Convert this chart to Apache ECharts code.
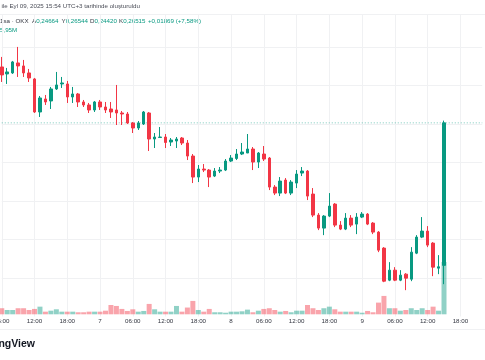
<!DOCTYPE html>
<html><head><meta charset="utf-8">
<script src="https://cdn.jsdelivr.net/npm/echarts@6/dist/echarts.min.js"></script>
<style>html,body{margin:0;padding:0;background:#fff;overflow:hidden}#c{width:485px;height:360px}</style>
</head><body><div id="c"></div>
<script>
// Hourly candles, OKX 1h, from day 6 06:00 to day 9 15:00
const opens = [0.27241,0.2715,0.27163,0.27293,0.27254,0.27163,0.27085,0.26656,0.26825,0.26799,
0.26955,0.2702,0.2702,0.26851,0.2689,0.26786,0.26747,0.26682,0.26786,0.26721,
0.26695,0.26682,0.26643,0.2663,0.26513,0.26448,0.265,0.26643,0.26305,0.26325,
0.26331,0.26266,0.26279,0.26318,0.26253,0.26084,0.25811,0.25915,0.25902,0.25824,
0.25889,0.25902,0.26019,0.26052,0.2611,0.26123,0.26175,0.26006,0.2611,0.26058,
0.25681,0.25603,0.25772,0.25603,0.25733,0.25863,0.25889,0.2559,0.25317,0.25148,
0.25304,0.2546,0.25187,0.25135,0.25278,0.252,0.25291,0.2533,0.25213,0.25096,
0.24888,0.24472,0.24602,0.24472,0.2455,0.24485,0.24823,0.25031,0.25109,0.24953,
0.24628,0.24664];
const closes = [0.27137,0.27176,0.27306,0.27254,0.27163,0.27098,0.26656,0.26838,0.26786,0.26955,
0.27007,0.27033,0.26851,0.2689,0.26786,0.26747,0.26682,0.26786,0.26721,0.26682,
0.26656,0.26643,0.2663,0.26513,0.26448,0.26513,0.26656,0.26305,0.26331,0.26331,
0.2626,0.26292,0.26305,0.26253,0.26084,0.25811,0.25915,0.25902,0.25811,0.25889,
0.25902,0.26019,0.26058,0.2611,0.26136,0.26175,0.26006,0.26123,0.26045,0.25681,
0.25603,0.25759,0.25603,0.25746,0.2585,0.25889,0.25564,0.25317,0.25148,0.25304,
0.25434,0.25187,0.25135,0.25278,0.25187,0.25291,0.2533,0.252,0.25096,0.24862,
0.24459,0.24602,0.24472,0.24537,0.24498,0.24836,0.25031,0.25109,0.24927,0.24641,
0.24646,0.26515];
const lows = [0.27046,0.2702,0.2715,0.27111,0.27111,0.27046,0.26643,0.26591,0.26747,0.26695,
0.26942,0.26968,0.26773,0.26773,0.26721,0.26721,0.26643,0.26656,0.26682,0.26643,
0.26578,0.26487,0.26487,0.265,0.26383,0.26422,0.26487,0.26149,0.26188,0.26318,
0.26188,0.26214,0.26188,0.26227,0.26032,0.25733,0.25746,0.25876,0.25681,0.25811,
0.25863,0.25889,0.26006,0.26032,0.26097,0.26123,0.25902,0.25928,0.26019,0.25642,
0.25577,0.25564,0.2559,0.25577,0.25668,0.25824,0.25512,0.25291,0.25122,0.25057,
0.25291,0.25161,0.25122,0.25122,0.25161,0.2507,0.25278,0.25187,0.2507,0.24836,
0.24446,0.24459,0.24459,0.24459,0.24342,0.24459,0.2481,0.25018,0.24901,0.24524,
0.2455,0.2442];
const highs = [0.27371,0.27228,0.27319,0.27501,0.27332,0.27215,0.27098,0.26864,0.26877,0.26981,
0.27176,0.27111,0.27059,0.26981,0.26903,0.26812,0.26773,0.26799,0.26812,0.26786,
0.26786,0.27007,0.26669,0.26656,0.26526,0.26539,0.26669,0.26656,0.26383,0.26461,
0.2637,0.26318,0.26331,0.26331,0.26292,0.2611,0.25967,0.2598,0.25915,0.25928,
0.25941,0.26045,0.26097,0.26175,0.26253,0.2637,0.26201,0.26136,0.26214,0.26071,
0.25707,0.25811,0.25798,0.25772,0.25902,0.25941,0.25902,0.25668,0.25343,0.25317,
0.25603,0.25473,0.25239,0.25343,0.25317,0.25343,0.25356,0.25343,0.25226,0.25109,
0.24901,0.24706,0.24641,0.24602,0.24563,0.24901,0.25057,0.25291,0.25174,0.24966,
0.24797,0.26544];
// volume in millions
const volumes = [0.69,0.49,0.49,0.69,0.69,0.49,0.61,0.87,0.30,0.41,
0.57,0.30,0.30,0.30,0.23,0.23,0.30,0.30,0.30,0.41,
1.06,0.95,0.61,0.38,0.57,0.30,0.38,1.18,0.57,0.30,
0.30,0.30,0.95,0.30,0.77,1.52,0.49,0.30,0.61,0.23,
0.23,0.18,0.30,0.30,0.34,0.53,0.23,0.41,0.61,0.69,
0.49,0.30,0.38,0.23,0.41,0.41,1.06,0.69,0.49,0.69,
0.87,0.57,0.30,0.30,0.30,0.30,0.18,0.38,0.23,1.33,
2.09,0.69,0.69,0.41,0.49,0.69,0.49,0.69,0.49,0.87,
0.41,5.95];
const priceTicks = [0.24, 0.28, 0.005];
const startDay = 6, startHour = 6, totalHours = 89;

const UP = '#089981', DOWN = '#f23645';
const categories = [];
for (let k = 0; k < totalHours; k++) {
  const t = startHour + k;
  categories.push((startDay + Math.floor(t / 24)) + '|' + (t % 24));
}
const isLabel = (i, v) => (+String(v).split('|')[1]) % 6 === 0;
const fmtLabel = v => { const [d, h] = String(v).split('|'); return +h === 0 ? d : (h.padStart(2, '0') + ':00'); };

const candleData = opens.map((o, i) => [o, closes[i], lows[i], highs[i]]);
const volData = volumes.map((v, i) => ({ value: v, itemStyle: { color: closes[i] >= opens[i] ? 'rgba(8,153,129,0.45)' : 'rgba(242,54,69,0.45)' } }));

const n = opens.length - 1;
const lastLine = categories.map(() => closes[n]);
const fmt = x => x.toFixed(5).replace('.', ',');
const chg = closes[n] - closes[n - 1];
const pct = chg / closes[n - 1] * 100;
const sign = chg >= 0 ? '+' : '-';
const FONT = '"Liberation Sans", Arial, sans-serif';
const F6 = '6.2px ' + FONT;

const chart = echarts.init(document.getElementById('c'), null, { renderer: 'canvas' });
chart.setOption({
  animation: false,
  backgroundColor: '#ffffff',
  grid: [
    { left: 1.75, right: 2.77, top: 14, bottom: 360 - 316.5, outerBoundsMode: 'none', containLabel: false },
    { left: 1.75, right: 2.77, top: 262, bottom: 360 - 314.3, outerBoundsMode: 'none', containLabel: false }
  ],
  xAxis: [
    { type: 'category', data: categories, gridIndex: 0, boundaryGap: false,
      axisLine: { show: false }, axisTick: { show: false }, axisLabel: { show: false },
      splitLine: { show: true, interval: isLabel, lineStyle: { color: '#f0f1f3', width: 1 } } },
    { type: 'category', data: categories, gridIndex: 1, boundaryGap: false,
      axisLine: { show: false }, axisTick: { show: false }, splitLine: { show: false },
      axisLabel: { show: true, interval: isLabel, formatter: fmtLabel, margin: 4, hideOverlap: false,
        fontSize: 6.2, color: '#333640', fontFamily: FONT } }
  ],
  yAxis: [
    { type: 'value', gridIndex: 0, min: priceTicks[0], max: 0.279286, interval: priceTicks[2],
      axisLabel: { show: false }, axisLine: { show: false }, axisTick: { show: false },
      splitLine: { show: true, showMinLine: false, showMaxLine: false, lineStyle: { color: '#f0f1f3', width: 1 } } },
    { type: 'value', gridIndex: 1, min: 0, max: 5.95, show: false, splitLine: { show: false } }
  ],
  series: [
    { type: 'bar', xAxisIndex: 1, yAxisIndex: 1, data: volData, barWidth: 5, z: 1 },
    { type: 'line', xAxisIndex: 0, yAxisIndex: 0, data: lastLine, showSymbol: false, silent: true, z: 2,
      lineStyle: { color: 'rgba(8,153,129,0.55)', type: [1, 2], width: 1 } },
    { type: 'candlestick', xAxisIndex: 0, yAxisIndex: 0, data: candleData, barWidth: 3, z: 3,
      itemStyle: { color: UP, color0: DOWN, borderColor: UP, borderColor0: DOWN, borderWidth: 1 } }
  ],
  graphic: [
    { type: 'line', shape: { x1: 0, y1: 14.5, x2: 485, y2: 14.5 }, style: { stroke: '#f0f1f3', lineWidth: 1 }, z: 0 },
    { type: 'line', shape: { x1: 0, y1: 329.5, x2: 485, y2: 329.5 }, style: { stroke: '#f0f1f3', lineWidth: 1 }, z: 0 },
    { type: 'text', x: 1.5, y: 3.5, style: { text: 'ile Eyl 09, 2025 15:54 UTC+3 tarihinde oluşturuldu', fill: '#4a4d57', font: F6 } },
    { type: 'text', x: 0, y: 18.5, style: { text: '1sa · OKX', fill: '#333640', font: F6 } },
    { type: 'text', x: 32, y: 18.5, style: { text: '{d|A}{v|' + fmt(opens[n]) + '}', rich: { d: { fill: '#333640', font: F6 }, v: { fill: UP, font: F6 } } } },
    { type: 'text', x: 61.5, y: 18.5, style: { text: '{d|Y}{v|' + fmt(highs[n]) + '}', rich: { d: { fill: '#333640', font: F6 }, v: { fill: UP, font: F6 } } } },
    { type: 'text', x: 90, y: 18.5, style: { text: '{d|D}{v|' + fmt(lows[n]) + '}', rich: { d: { fill: '#333640', font: F6 }, v: { fill: UP, font: F6 } } } },
    { type: 'text', x: 119, y: 18.5, style: { text: '{d|K}{v|' + fmt(closes[n]) + '}', rich: { d: { fill: '#333640', font: F6 }, v: { fill: UP, font: F6 } } } },
    { type: 'text', x: 148, y: 18.5, style: { text: sign + fmt(Math.abs(chg)) + ' (' + sign + pct.toFixed(2).replace('.', ',') + '%)', fill: UP, font: F6 } },
    { type: 'text', x: 0, y: 26.8, style: { text: (volumes[n]).toFixed(2).replace('.', ',') + 'M', fill: UP, font: F6 } },
    { type: 'text', x: 35, y: 338.5, style: { text: 'TradingView', align: 'right', fill: '#131722', font: 'bold 10.5px ' + FONT } }
  ]
});
</script></body></html>
